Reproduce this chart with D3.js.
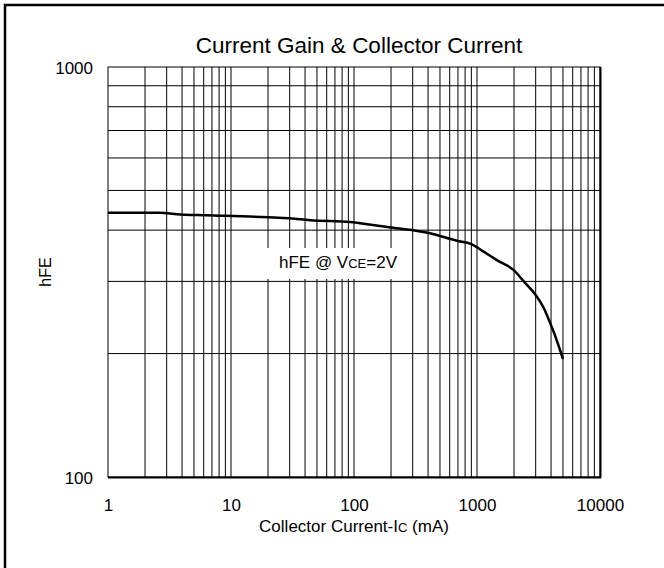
<!DOCTYPE html>
<html>
<head>
<meta charset="utf-8">
<script src="https://cdn.jsdelivr.net/npm/d3@7"></script>
<style>
  html, body { margin: 0; padding: 0; background: #fff; }
  svg { display: block; font-family: "Liberation Sans", Arial, sans-serif; }
</style>
</head>
<body>
<svg id="chart" width="664" height="568"></svg>
<script>
// ---- data ----
const titleText = "Current Gain & Collector Current";
const xTickValues = [1, 10, 100, 1000, 10000];
const yTickValues = [100, 1000];
const icValues  = [1, 2.6, 3.9, 6.3, 20, 30, 44, 93, 112, 200, 415, 685, 900, 1125, 1450, 2000, 2400, 3000, 3500, 3900, 4200, 5000];
const hfeValues = [441, 441, 437, 435, 430, 427.5, 423, 419, 416, 406, 393, 377, 370, 355, 338, 319, 300, 278, 258, 239, 226, 194];

const svg = d3.select("#chart");
const W = 664, H = 568;
const m = { left: 108, right: 64, top: 67, bottom: 91 };
const pw = W - m.left - m.right;  // 492
const ph = H - m.top - m.bottom;  // 410

// outer frame (only top/left visible in reference)
svg.append("rect")
  .attr("x", 5).attr("y", 5)
  .attr("width", 700).attr("height", 700)
  .attr("fill", "none").attr("stroke", "#000").attr("stroke-width", 2.5);

const x = d3.scaleLog().domain([1, 10000]).range([m.left, m.left + pw]);
const y = d3.scaleLog().domain([100, 1000]).range([m.top + ph, m.top]);

const g = svg.append("g");

// grid: every 1..9 per decade
const xGrid = x.ticks(40).filter(v => v > 1 && v < 10000);
const yGrid = y.ticks(20).filter(v => v > 100 && v < 1000);

g.append("g").selectAll("line").data(xGrid).join("line")
  .attr("x1", d => x(d)).attr("x2", d => x(d))
  .attr("y1", m.top).attr("y2", m.top + ph)
  .attr("stroke", "#000").attr("stroke-width", 1);

g.append("g").selectAll("line").data(yGrid).join("line")
  .attr("x1", m.left).attr("x2", m.left + pw)
  .attr("y1", d => y(d)).attr("y2", d => y(d))
  .attr("stroke", "#000").attr("stroke-width", 1);

// plot frame
g.append("rect")
  .attr("x", m.left).attr("y", m.top)
  .attr("width", pw).attr("height", ph)
  .attr("fill", "none").attr("stroke", "#000").attr("stroke-width", 1);
g.append("line").attr("x1", m.left).attr("x2", m.left + pw + 1)
  .attr("y1", m.top + ph + 0.5).attr("y2", m.top + ph + 0.5)
  .attr("stroke", "#000").attr("stroke-width", 2);
g.append("line").attr("x1", m.left + pw + 0.5).attr("x2", m.left + pw + 0.5)
  .attr("y1", m.top).attr("y2", m.top + ph + 1)
  .attr("stroke", "#000").attr("stroke-width", 2);

// axes (labels only)
const xAxis = d3.axisBottom(x).tickValues(xTickValues).tickFormat(d3.format("d")).tickSize(0).tickPadding(22);
const yAxis = d3.axisLeft(y).tickValues(yTickValues).tickFormat(d3.format("d")).tickSize(0).tickPadding(15);

const gx = svg.append("g").attr("transform", `translate(0,${m.top + ph})`).call(xAxis);
const gy = svg.append("g").attr("transform", `translate(${m.left},0)`).call(yAxis);
[gx, gy].forEach(a => {
  a.select(".domain").remove();
  a.selectAll("text").attr("font-size", 17).attr("fill", "#000")
    .attr("font-family", "Liberation Sans, Arial, sans-serif");
});
gy.selectAll("text").attr("dy", "0.4em");

// curve
const pts = icValues.map((v, i) => [v, hfeValues[i]]);
const line = d3.line().x(d => x(d[0])).y(d => y(d[1])).curve(d3.curveMonotoneX);
svg.append("path").datum(pts)
  .attr("d", line)
  .attr("fill", "none").attr("stroke", "#000").attr("stroke-width", 2.5)
  .attr("stroke-linejoin", "round");

// annotation with white box
const ann = svg.append("g");
ann.append("rect").attr("x", 266).attr("y", 248).attr("width", 142).attr("height", 31).attr("fill", "#fff");
const at = ann.append("text").attr("x", 338).attr("y", 268).attr("text-anchor", "middle")
  .attr("font-size", 17).attr("fill", "#000");
at.append("tspan").text("hFE @ V");
at.append("tspan").attr("font-size", 13).text("CE");
at.append("tspan").text("=2V");

// title
svg.append("text").attr("x", 359).attr("y", 53).attr("text-anchor", "middle")
  .attr("font-size", 22.5).attr("fill", "#000").text(titleText);

// x label
const xl = svg.append("text").attr("x", 354).attr("y", 532).attr("text-anchor", "middle")
  .attr("font-size", 17).attr("fill", "#000");
xl.append("tspan").text("Collector Current-I");
xl.append("tspan").attr("font-size", 13).text("C");
xl.append("tspan").text(" (mA)");

// y label
svg.append("text").attr("transform", `translate(51,${m.top + ph / 2}) rotate(-90)`)
  .attr("text-anchor", "middle").attr("font-size", 16).attr("fill", "#000").text("hFE");
</script>
</body>
</html>
